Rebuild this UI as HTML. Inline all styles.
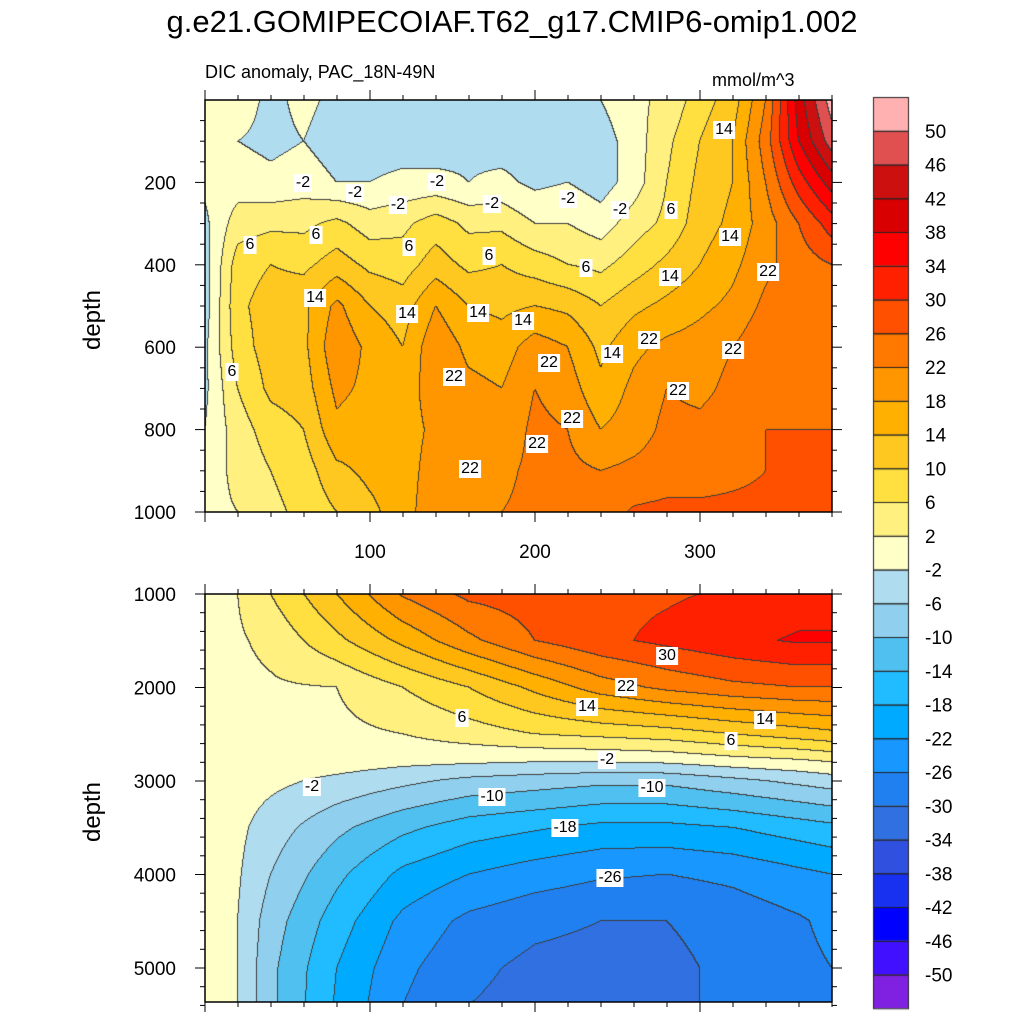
<!DOCTYPE html>
<html><head><meta charset="utf-8"><style>
body{margin:0;background:#fff;width:1024px;height:1024px;position:relative;overflow:hidden;font-family:"Liberation Sans",sans-serif}
.t{position:absolute;white-space:nowrap;color:#000}
.cl{position:absolute;background:#fff;font-size:16px;padding:0 2px;transform:translate(-50%,-50%);line-height:18px}
canvas,svg{position:absolute;left:0;top:0}
</style></head><body>
<canvas id="c" width="1024" height="1024"></canvas>
<svg id="s" width="1024" height="1024"></svg>
<div class="t" style="left:0;width:1024px;text-align:center;top:4px;font-size:31px">g.e21.GOMIPECOIAF.T62_g17.CMIP6-omip1.002</div>
<div class="t" style="left:205px;top:62px;font-size:18px">DIC anomaly, PAC_18N-49N</div>
<div class="t" style="left:712px;top:70px;font-size:18px">mmol/m^3</div>
<div class="t" style="left:93px;top:320px;font-size:24px;transform:translate(-50%,-50%) rotate(-90deg)">depth</div>
<div class="t" style="left:93px;top:812px;font-size:24px;transform:translate(-50%,-50%) rotate(-90deg)">depth</div>
<div id="labels"></div>
<script>
// top panel data: depth 0..1000
const topX=[0,20,40,60,80,100,120,140,160,180,200,220,240,260,280,300,320,340,360,380];
const topD=[0,100,200,300,400,500,600,700,800,900,1000];
const topV=[
[0,0,-3,-1,-3,-3,-3,-3,-2,-3,-3,-3,-2,1,3,8,12,22,40,52],
[0,-2,-3,-2,-4,-4,-4,-4,-3,-4,-4,-4,-4,0,5,10,14,24,38,48],
[-1,0,-1,0,-2,-2,-1,-1,-2,-1,-3,-2,-4,0,6,11,14,22,32,40],
[-3,4,5,5,7,4,5,8,5,5,2,2,0,4,7,12,15,20,26,32],
[-4,8,10,9,12,9,8,12,9,10,8,6,5,8,11,14,17,21,24,26],
[-4,9,12,13,19,14,12,18,14,13,14,13,10,13,15,17,19,23,25,26],
[-3,8,12,13,21,17,14,21,17,16,20,18,13,17,19,20,22,25,26,25],
[-3,6,11,12,19,17,15,21,19,18,22,20,15,19,22,21,23,25,26,25],
[-2,4,8,10,17,16,16,19,19,19,23,22,18,20,23,23,24,26,26,26],
[0,3,6,8,13,15,16,20,22,21,23,23,22,23,24,24,25,26,27,27],
[1,2,5,7,10,13,16,21,22,22,23,23,24,26.5,27,27,27,27,27,27]];
// bottom panel data: depth 1000..5400
const botX=[0,20,40,80,120,160,200,240,280,320,360,380];
const botD=[1000,1500,2000,2500,2800,3000,3500,4000,4500,5000,5400];
const botV=[
[1,2,6,14,22.5,27,28,29,29.5,30.5,32,32],
[1,1.5,3,9,15,21,26,29,31,33,34.5,34.5],
[1,1,1.5,2,6,10,15,20,23,25,26,26],
[1,1,1,1,2,4,6,7,8,10,12,13],
[1,1,0.5,0,-1,-1.5,-2,-2,-1.5,0,1,2],
[1,0,-1,-3,-5,-7,-8,-9,-9,-7,-5,-4],
[1,-1,-4,-9,-13,-16,-17.5,-19,-19,-18,-16,-15],
[1,-1.5,-6,-13,-19,-22,-24,-25.5,-26,-25,-23,-22],
[0.5,-2,-8,-16,-23,-27,-29,-30,-30,-28.5,-26.5,-25],
[0,-2,-9,-18,-25,-29,-31,-31.5,-31,-29,-27,-26],
[0,-2,-9,-18.5,-26,-30,-31.5,-32,-31,-29,-27,-26]];
const levels=[-50,-46,-42,-38,-34,-30,-26,-22,-18,-14,-10,-6,-2,2,6,10,14,18,22,26,30,34,38,42,46,50];
const colors=["#8020e0","#4010ff","#0000ff","#1830f0","#3050e0","#3070e0","#2080f0","#1898ff","#00aaff","#20bcff","#50c0f0","#90d0ee","#b0dcf0","#ffffc8","#fff080","#ffe040","#ffc820","#ffb000","#ff9600","#ff7800","#ff5000","#ff2000","#ff0000","#d80000","#cc1010","#e05050","#ffb0b0"];

const X0=205,X1=832,PX=1.65;
const xS=x=>X0+x*PX;
const topY=d=>100+d*0.412;
const botY=d=>594+(d-1000)*0.0935;

function seg(a,v){let i=0;while(i<a.length-2&&v>a[i+1])i++;let t=(v-a[i])/(a[i+1]-a[i]);return [i,Math.max(0,Math.min(1,t))];}
function interp(xs,ds,V,x,d){const [i,tx]=seg(xs,x);const [j,ty]=seg(ds,d);
 const a=V[j][i]*(1-tx)+V[j][i+1]*tx,b=V[j+1][i]*(1-tx)+V[j+1][i+1]*tx;return a*(1-ty)+b*ty;}
function band(v){let k=0;while(k<levels.length&&v>levels[k])k++;return k;}
function hex(h){return [parseInt(h.substr(1,2),16),parseInt(h.substr(3,2),16),parseInt(h.substr(5,2),16)];}
const rgb=colors.map(hex);
const ctx=document.getElementById('c').getContext('2d');
function drawPanel(y0,y1,xs,ds,V,inv){
 const w=X1-X0,h=y1-y0;const img=ctx.createImageData(w,h);const B=new Int16Array(w*h);
 for(let r=0;r<h;r++){const d=inv(y0+r+0.5);for(let c=0;c<w;c++){const x=(c+0.5)/PX;B[r*w+c]=band(interp(xs,ds,V,x,d));}}
 for(let r=0;r<h;r++)for(let c=0;c<w;c++){const k=B[r*w+c];let col=rgb[k];
  const edge=(c<w-1&&B[r*w+c+1]!==k)||(r<h-1&&B[(r+1)*w+c]!==k);
  const p=(r*w+c)*4;if(edge){img.data[p]=img.data[p+1]=img.data[p+2]=60;}else{img.data[p]=col[0];img.data[p+1]=col[1];img.data[p+2]=col[2];}img.data[p+3]=255;}
 ctx.putImageData(img,X0,y0);}
drawPanel(100,512,topX,topD,topV,y=>(y-100)/0.412);
drawPanel(594,1002,botX,botD,botV,y=>1000+(y-594)/0.0935);

// colorbar
for(let i=0;i<colors.length;i++){const y=97+33.75*(colors.length-1-i);ctx.fillStyle=colors[i];ctx.fillRect(873,y,35,33.75);ctx.strokeStyle="#222";ctx.lineWidth=1;ctx.strokeRect(873.5,y+0.5,35,33.75);}
const S=document.getElementById('s');const NS="http://www.w3.org/2000/svg";
function el(t,a,txt){const e=document.createElementNS(NS,t);for(const k in a)e.setAttribute(k,a[k]);if(txt!==undefined)e.textContent=txt;S.appendChild(e);return e;}
for(let k=0;k<levels.length;k++){const y=97+33.75*(levels.length-k);
 const t=el('text',{x:925,y:y+7,'font-size':19,'font-family':'Liberation Sans'},String(levels[k]));
 
 }
// frames & ticks
function frame(y0,y1){const r=el('rect',{x:X0,y:y0,width:X1-X0,height:y1-y0,fill:'none',stroke:'#000','stroke-width':1.5});
 
 
 for(let x=0;x<=380;x+=20){const px=xS(x),L=x%100===0?10:5;el('line',{x1:px,x2:px,y1:y0,y2:y0-L,stroke:'#000'});el('line',{x1:px,x2:px,y1:y1,y2:y1+L,stroke:'#000'});}}
frame(100,512);frame(594,1002);
for(let d=0;d<=1000;d+=50){const y=topY(d),L=d%200===0?10:5;if(d>0){el('line',{x1:X0,x2:X0-L,y1:y,y2:y,stroke:'#000'});el('line',{x1:X1,x2:X1+L,y1:y,y2:y,stroke:'#000'});}
 if(d%200===0&&d>0){const t=el('text',{x:176,y:y+7,'font-size':19,'text-anchor':'end','font-family':'Liberation Sans'},String(d));}}
for(let d=1000;d<=5400;d+=200){const y=botY(d),L=d%1000===0?10:5;el('line',{x1:X0,x2:X0-L,y1:y,y2:y,stroke:'#000'});el('line',{x1:X1,x2:X1+L,y1:y,y2:y,stroke:'#000'});
 if(d%1000===0){const t=el('text',{x:176,y:y+7,'font-size':19,'text-anchor':'end','font-family':'Liberation Sans'},String(d));}}
for(const x of [100,200,300]){const t=el('text',{x:xS(x),y:558,'font-size':19,'text-anchor':'middle','font-family':'Liberation Sans'},String(x));}
// contour labels
const cl=[["-2",303,183],["-2",355,193],["-2",398,205],["-2",437,182],["-2",492,204],["-2",568,199],["-2",620,210],["6",250,245],["6",316,235],["6",409,247],["6",489,256],["6",586,268],["6",671,210],["14",315,298],["14",407,314],["14",478,313],["14",523,321],["14",612,354],["14",670,277],["14",730,237],["14",724,130],["22",454,377],["22",549,363],["22",649,340],["22",733,350],["22",572,419],["22",678,391],["22",537,444],["22",470,469],["22",768,272],["6",232,372],
["30",667,656],["22",626,687],["14",587,707],["6",462,718],["14",765,720],["6",731,741],["-2",607,760],["-2",312,787],["-10",492,797],["-10",652,788],["-18",565,828],["-26",610,878]];
const L=document.getElementById('labels');
for(const [t,x,y] of cl){const d=document.createElement('div');d.className='cl';d.style.left=x+'px';d.style.top=y+'px';d.textContent=t;
 
 
 L.appendChild(d);}
</script>
</body></html>
